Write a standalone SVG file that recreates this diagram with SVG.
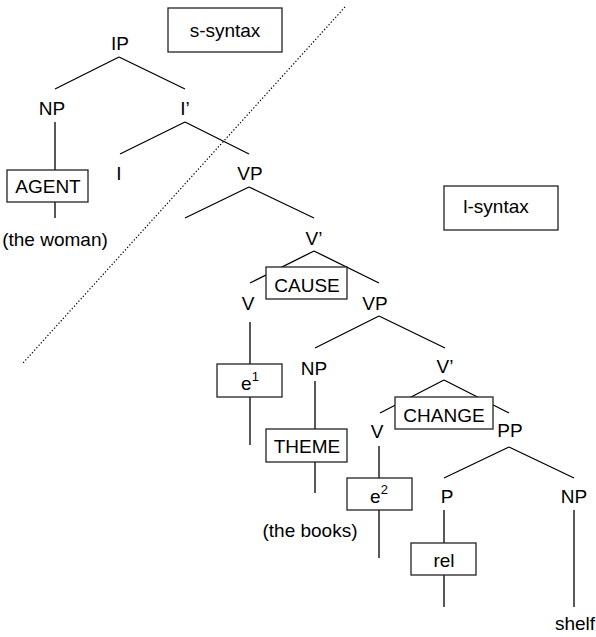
<svg xmlns="http://www.w3.org/2000/svg" width="596" height="637" viewBox="0 0 596 637">
<style>
text{font-family:"Liberation Sans",Arial,sans-serif;font-size:19px;fill:#000;text-anchor:middle}
.sup{font-size:13px}
.e{stroke:#000;stroke-width:1.3;fill:none}
.box{fill:#fff;stroke:#222;stroke-width:1.3}
.dot{stroke:#000;stroke-width:1.2;stroke-dasharray:1.3 2;fill:none}
</style>
<rect width="596" height="637" fill="#fff"/>
<line class="dot" x1="345" y1="7" x2="23" y2="363"/>
<g id="connectors">
<path class="e" d="M119 57L55 89M119 57L185 89"/>
<path class="e" d="M55 122V170M55 202V218"/>
<path class="e" d="M185 122L120 154M185 122L249 154"/>
<path class="e" d="M249 187L185 218M249 187L314 218"/>
<path class="e" d="M314 251L250 283M314 251L379 283"/>
<path class="e" d="M250 322V364M250 397V445"/>
<path class="e" d="M379 316L315 348M379 316L445 348"/>
<path class="e" d="M315 381V429M315 462V493"/>
<path class="e" d="M444 380L380 413M444 380L509 413"/>
<path class="e" d="M379 446V478M379 510V558"/>
<path class="e" d="M509 447L444 478M509 447L574 478"/>
<path class="e" d="M444 510V543M444 575V607"/>
<path class="e" d="M574 510V607"/>
</g>
<g id="s-syntax"><rect class="box" x="168" y="8" width="114" height="44"/><text x="225" y="37">s-syntax</text></g>
<g id="l-syntax"><rect class="box" x="444" y="186" width="114" height="44"/><text x="496" y="213">l-syntax</text></g>
<g id="IP"><text x="120" y="50">IP</text></g>
<g id="NP1"><text x="52" y="115">NP</text></g>
<g id="AGENT"><rect class="box" x="7" y="170" width="81" height="32"/><text x="48" y="193">AGENT</text></g>
<g id="woman"><text x="55" y="246">(the woman)</text></g>
<g id="I-bar"><text x="185" y="115">I’</text></g>
<g id="I"><text x="119" y="180">I</text></g>
<g id="VP1"><text x="250" y="180">VP</text></g>
<g id="V-bar1"><text x="314" y="245">V’</text></g>
<g id="CAUSE"><rect class="box" x="266" y="267" width="81" height="32"/><text x="307" y="292">CAUSE</text></g>
<g id="V1"><text x="248" y="310">V</text></g>
<g id="e1"><rect class="box" x="217" y="364" width="65" height="33"/><text x="250" y="390">e<tspan class="sup" dy="-9">1</tspan></text></g>
<g id="VP2"><text x="375" y="310">VP</text></g>
<g id="NP2"><text x="314" y="375">NP</text></g>
<g id="THEME"><rect class="box" x="266" y="429" width="81" height="33"/><text x="307" y="453">THEME</text></g>
<g id="books"><text x="310" y="537">(the books)</text></g>
<g id="V-bar2"><text x="445" y="373">V’</text></g>
<g id="CHANGE"><rect class="box" x="395" y="397" width="98" height="32"/><text x="444" y="422">CHANGE</text></g>
<g id="V2"><text x="377" y="438">V</text></g>
<g id="e2"><rect class="box" x="347" y="478" width="65" height="32"/><text x="379" y="503">e<tspan class="sup" dy="-9">2</tspan></text></g>
<g id="PP"><text x="510" y="437">PP</text></g>
<g id="P"><text x="447" y="503">P</text></g>
<g id="rel"><rect class="box" x="411" y="543" width="65" height="32"/><text x="444" y="567">rel</text></g>
<g id="NP3"><text x="574" y="503">NP</text></g>
<g id="shelf"><text x="575" y="630">shelf</text></g>
</svg>
